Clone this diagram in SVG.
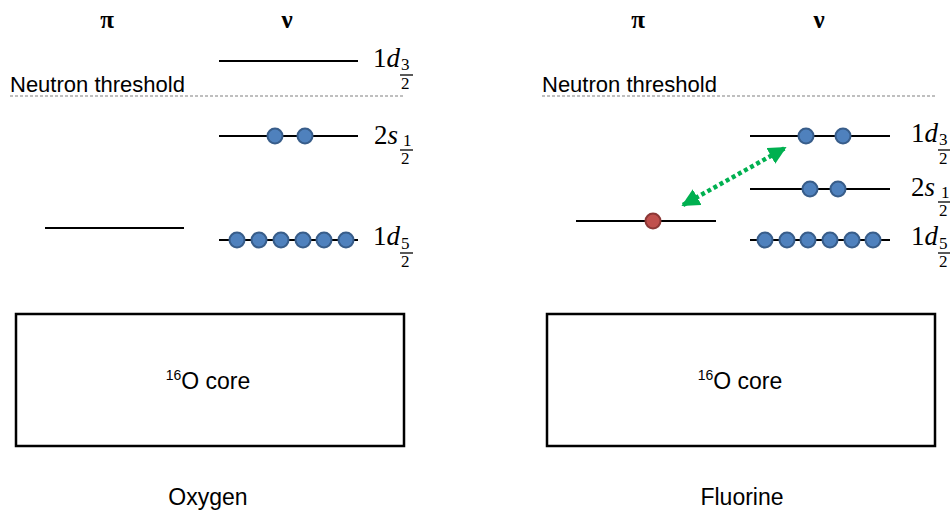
<svg xmlns="http://www.w3.org/2000/svg" width="950" height="514" viewBox="0 0 950 514">
<style>
.lvl{stroke:#000;stroke-width:2;fill:none}
.n{fill:#4f81bd;stroke:#385d8a;stroke-width:2}
.p{fill:#c0504d;stroke:#8c3836;stroke-width:2}
.core{fill:#fff;stroke:#000;stroke-width:2.5}
.thr{stroke:#808080;stroke-width:1.2;stroke-dasharray:3 2;fill:none}
.sans{font-family:"Liberation Sans",Arial,sans-serif;fill:#000}
.greek{font-family:"Liberation Serif","DejaVu Serif",serif;font-size:25px;font-weight:bold;fill:#000}
.m{font-family:"Liberation Serif","DejaVu Serif",serif;font-size:27px;fill:#000}
.s{font-family:"Liberation Serif","DejaVu Serif",serif;font-size:17px;fill:#000}
.it{font-style:italic}
.bar{stroke:#000;stroke-width:1.3}
</style>
<defs>
<marker id="ah" viewBox="0 0 10 10" refX="9" refY="5" markerWidth="4" markerHeight="4" orient="auto-start-reverse" markerUnits="strokeWidth">
<path d="M0,0 L10,5 L0,10 z" fill="#00b050"/>
</marker>
</defs>

<g id="oxygen">
  <text class="greek" x="107" y="28" text-anchor="middle">π</text>
  <text class="greek" x="287" y="28" text-anchor="middle">ν</text>
  <g id="o-threshold">
    <text class="sans" x="10" y="92" font-size="22">Neutron threshold</text>
    <line class="thr" x1="10" y1="96" x2="404" y2="96"/>
  </g>
  <g id="o-nu-1d32">
    <line class="lvl" x1="219" y1="61" x2="358" y2="61"/>
    <text class="m" x="373" y="67">1<tspan class="it">d</tspan></text>
    <text class="s" x="401" y="70">3</text>
    <line class="bar" x1="400" y1="75" x2="413" y2="75"/>
    <text class="s" x="401" y="89">2</text>
  </g>
  <g id="o-nu-2s12">
    <line class="lvl" x1="219" y1="136" x2="358" y2="136"/>
    <circle class="n" cx="275" cy="136" r="7.5"/>
    <circle class="n" cx="305" cy="136" r="7.5"/>
    <text class="m" x="374" y="144">2<tspan class="it">s</tspan></text>
    <text class="s" x="403" y="146">1</text>
    <line class="bar" x1="400" y1="150" x2="413" y2="150"/>
    <text class="s" x="401" y="164">2</text>
  </g>
  <g id="o-pi-1d52">
    <line class="lvl" x1="45" y1="228" x2="184" y2="228"/>
  </g>
  <g id="o-nu-1d52">
    <line class="lvl" x1="219" y1="240" x2="358" y2="240"/>
    <circle class="n" cx="237" cy="240" r="7.5"/>
    <circle class="n" cx="259" cy="240" r="7.5"/>
    <circle class="n" cx="281" cy="240" r="7.5"/>
    <circle class="n" cx="303" cy="240" r="7.5"/>
    <circle class="n" cx="324" cy="240" r="7.5"/>
    <circle class="n" cx="346" cy="240" r="7.5"/>
    <text class="m" x="373" y="245">1<tspan class="it">d</tspan></text>
    <text class="s" x="401" y="249">5</text>
    <line class="bar" x1="400" y1="253" x2="413" y2="253"/>
    <text class="s" x="401" y="267">2</text>
  </g>
  <g id="o-core">
    <rect class="core" x="16" y="314" width="388" height="132"/>
    <text class="sans" x="208" y="389" font-size="23" text-anchor="middle"><tspan font-size="14" dy="-9">16</tspan><tspan dy="9">O core</tspan></text>
  </g>
  <text class="sans" x="208" y="505" font-size="23" text-anchor="middle">Oxygen</text>
</g>

<g id="fluorine">
  <text class="greek" x="638" y="28" text-anchor="middle">π</text>
  <text class="greek" x="819" y="28" text-anchor="middle">ν</text>
  <g id="f-threshold">
    <text class="sans" x="542" y="92" font-size="22">Neutron threshold</text>
    <line class="thr" x1="542" y1="96" x2="935" y2="96"/>
  </g>
  <g id="f-nu-1d32">
    <line class="lvl" x1="750" y1="136" x2="890" y2="136"/>
    <circle class="n" cx="806" cy="136" r="7.5"/>
    <circle class="n" cx="843" cy="136" r="7.5"/>
    <text class="m" x="911" y="142">1<tspan class="it">d</tspan></text>
    <text class="s" x="939" y="145">3</text>
    <line class="bar" x1="938" y1="150" x2="951" y2="150"/>
    <text class="s" x="939" y="164">2</text>
  </g>
  <g id="f-nu-2s12">
    <line class="lvl" x1="750" y1="189" x2="890" y2="189"/>
    <circle class="n" cx="810" cy="189" r="7.5"/>
    <circle class="n" cx="838" cy="189" r="7.5"/>
    <text class="m" x="911" y="196">2<tspan class="it">s</tspan></text>
    <text class="s" x="941" y="198">1</text>
    <line class="bar" x1="938" y1="202" x2="951" y2="202"/>
    <text class="s" x="939" y="216">2</text>
  </g>
  <g id="f-nu-1d52">
    <line class="lvl" x1="750" y1="240" x2="890" y2="240"/>
    <circle class="n" cx="765" cy="240" r="7.5"/>
    <circle class="n" cx="787" cy="240" r="7.5"/>
    <circle class="n" cx="808" cy="240" r="7.5"/>
    <circle class="n" cx="830" cy="240" r="7.5"/>
    <circle class="n" cx="852" cy="240" r="7.5"/>
    <circle class="n" cx="873" cy="240" r="7.5"/>
    <text class="m" x="911" y="245">1<tspan class="it">d</tspan></text>
    <text class="s" x="939" y="249">5</text>
    <line class="bar" x1="938" y1="253" x2="951" y2="253"/>
    <text class="s" x="939" y="267">2</text>
  </g>
  <g id="f-pi-1d52">
    <line class="lvl" x1="576" y1="221" x2="716" y2="221"/>
    <circle class="p" cx="653" cy="221" r="7.5"/>
  </g>
  <g id="f-core">
    <rect class="core" x="547" y="314" width="388" height="132"/>
    <text class="sans" x="740" y="389" font-size="23" text-anchor="middle"><tspan font-size="14" dy="-9">16</tspan><tspan dy="9">O core</tspan></text>
  </g>
  <text class="sans" x="742" y="505" font-size="23" text-anchor="middle">Fluorine</text>
</g>

<g id="connectors">
  <line x1="683" y1="205" x2="785" y2="148" stroke="#00b050" stroke-width="4.5" stroke-dasharray="4 3" marker-start="url(#ah)" marker-end="url(#ah)"/>
</g>
</svg>
